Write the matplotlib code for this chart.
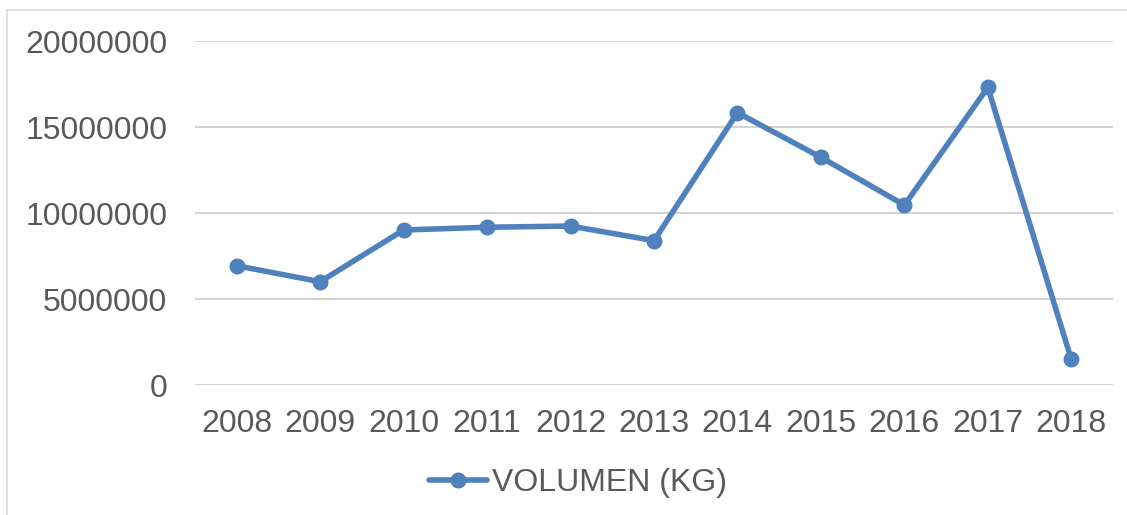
"""Recreate the VOLUMEN (KG) line chart."""

import matplotlib
matplotlib.use("Agg")
import matplotlib.pyplot as plt
from matplotlib.patches import Rectangle

years = ["2008", "2009", "2010", "2011", "2012", "2013", "2014", "2015", "2016", "2017", "2018"]
volumen_kg = [6940000, 6010000, 9020000, 9180000, 9250000, 8400000,
              15850000, 13250000, 10470000, 17320000, 1490000]
y_ticks = [0, 5000000, 10000000, 15000000, 20000000]

plt.rcParams["font.family"] = ["Liberation Sans", "DejaVu Sans"]
text_color = "#595959"
line_color = "#4F81BD"
font_size = 23

fig = plt.figure(figsize=(11.27, 5.15), dpi=100)
ax = fig.add_axes([0.173, 0.2524, 0.8146, 0.6674])

x = range(len(years))
ax.plot(x, volumen_kg, color=line_color, linewidth=4, marker="o",
        markersize=10.5, label="VOLUMEN (KG)", solid_capstyle="round", zorder=3)

ax.set_xlim(-0.5, len(years) - 0.5)
ax.set_ylim(0, 20000000)
ax.set_yticks(y_ticks)
ax.set_yticklabels([str(v) for v in y_ticks])
ax.set_xticks(list(x))
ax.set_xticklabels(years)
ax.tick_params(axis="both", length=0, labelsize=font_size, colors=text_color)
ax.tick_params(axis="y", pad=20)
ax.tick_params(axis="x", pad=17)
ax.grid(axis="y", color="#D4D4D4", linewidth=1.5)
ax.set_axisbelow(True)
for spine in ax.spines.values():
    spine.set_visible(False)

# chart area border (only left and top visible in the crop)
fig.patches.append(Rectangle((7 / 1127, -0.1), 1.2, 1 - 10 / 515 + 0.1,
                             transform=fig.transFigure, fill=False,
                             edgecolor="#D9D9D9", linewidth=1.2))

leg = fig.legend(loc="center", bbox_to_anchor=(578 / 1127, 1 - 483 / 515),
                 frameon=False, fontsize=font_size, handlelength=1.8,
                 handletextpad=0.15, labelcolor=text_color)

fig.savefig("out.png", dpi=100)
